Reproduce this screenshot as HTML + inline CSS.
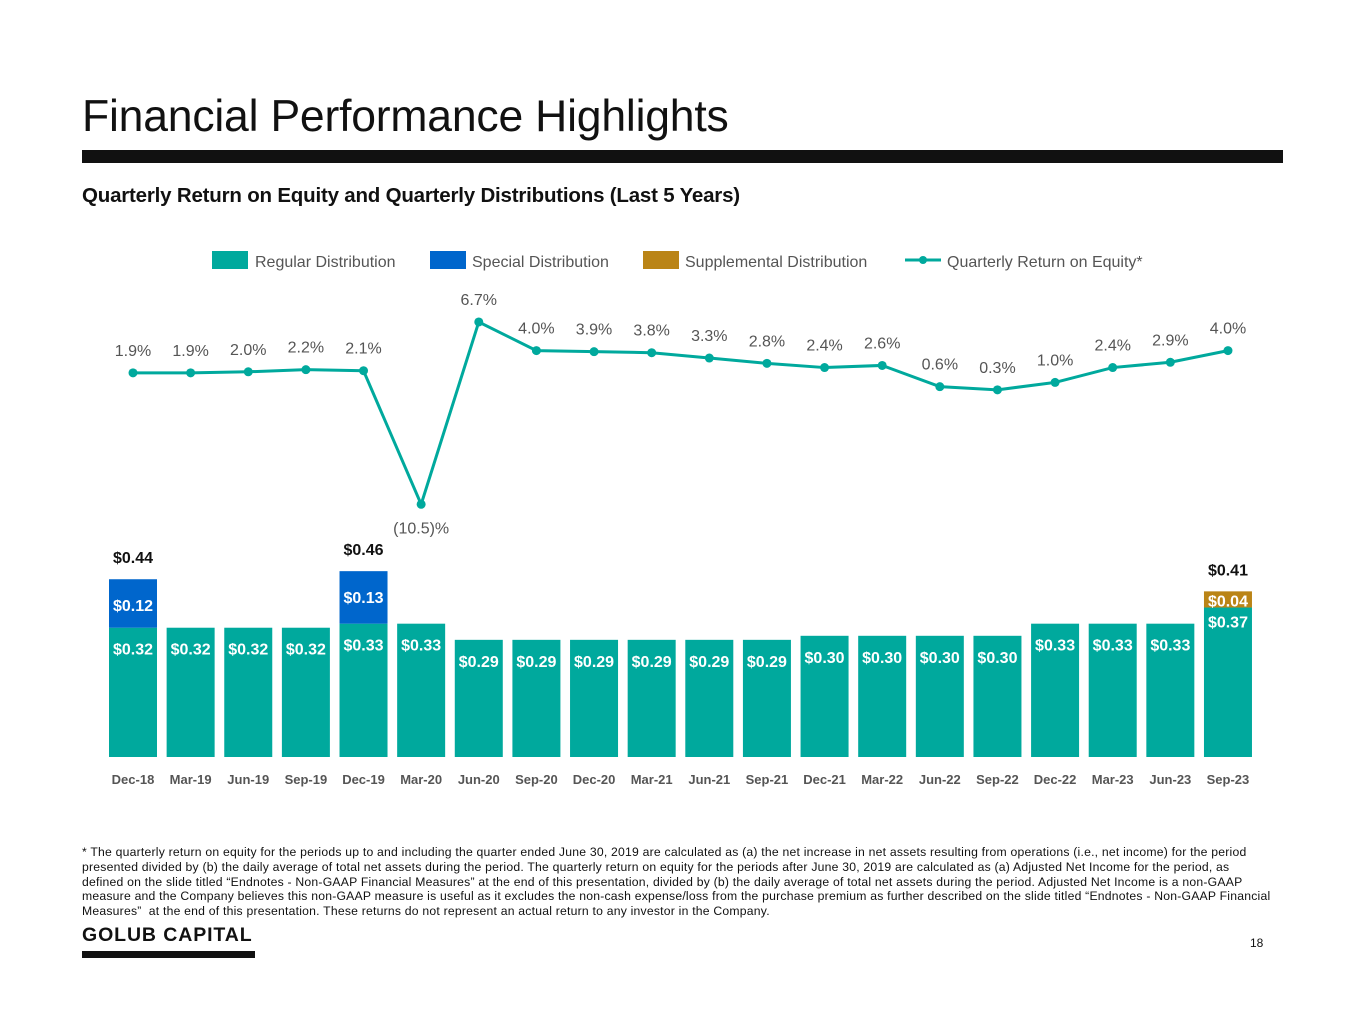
<!DOCTYPE html>
<html><head><meta charset="utf-8">
<style>
body{margin:0;width:1365px;height:1024px;background:#fff;position:relative;overflow:hidden;font-family:"Liberation Sans",sans-serif;}
.abs{position:absolute;}
#title{left:82px;top:92px;font-size:44.5px;color:#111;letter-spacing:-0.2px;}
#rule{left:82px;top:150px;width:1201px;height:13px;background:#111;}
#subtitle{left:82px;top:184px;font-size:20.5px;font-weight:bold;color:#111;letter-spacing:-0.2px;}
#foot{left:82px;top:845px;width:1190px;font-size:12.2px;line-height:14.8px;color:#111;letter-spacing:0.22px;}
#logo{left:82px;top:924px;font-size:19.5px;font-weight:bold;letter-spacing:0.9px;color:#111;}
#logobar{left:82px;top:951px;width:173px;height:7px;background:#111;}
#page{left:1250px;top:936px;font-size:12px;color:#111;}
</style></head><body>
<div class="abs" id="title">Financial Performance Highlights</div>
<div class="abs" id="rule"></div>
<div class="abs" id="subtitle">Quarterly Return on Equity and Quarterly Distributions (Last 5 Years)</div>
<svg class="abs" style="left:0;top:0" width="1365" height="830" id="chart" font-family="Liberation Sans, sans-serif">
<g>
<g><rect x="212" y="251" width="36" height="18" fill="#00A99D"/><text x="255" y="267" font-size="16" fill="#555">Regular Distribution</text></g>
<g><rect x="430" y="251" width="36" height="18" fill="#0066CC"/><text x="472" y="267" font-size="16" fill="#555">Special Distribution</text></g>
<g><rect x="643" y="251" width="36" height="18" fill="#BA8416"/><text x="685" y="267" font-size="16" fill="#555">Supplemental Distribution</text></g>
<g><line x1="905" y1="260" x2="941" y2="260" stroke="#00A99D" stroke-width="3"/><circle cx="923" cy="260" r="4" fill="#00A99D"/><text x="947" y="267" font-size="16" fill="#555">Quarterly Return on Equity*</text></g>
</g>
<g id="bars"></g><g id="line"></g><g id="xlabels"></g>
</svg>
<div class="abs" id="foot">* The quarterly return on equity for the periods up to and including the quarter ended June 30, 2019 are calculated as (a) the net increase in net assets resulting from operations (i.e., net income) for the period presented divided by (b) the daily average of total net assets during the period. The quarterly return on equity for the periods after June 30, 2019 are calculated as (a) Adjusted Net Income for the period, as defined on the slide titled “Endnotes - Non-GAAP Financial Measures” at the end of this presentation, divided by (b) the daily average of total net assets during the period. Adjusted Net Income is a non-GAAP measure and the Company believes this non-GAAP measure is useful as it excludes the non-cash expense/loss from the purchase premium as further described on the slide titled “Endnotes - Non-GAAP Financial Measures”&nbsp; at the end of this presentation. These returns do not represent an actual return to any investor in the Company.</div>
<div class="abs" id="logo">GOLUB CAPITAL</div>
<div class="abs" id="logobar"></div>
<div class="abs" id="page">18</div>
<script>
const categories=["Dec-18","Mar-19","Jun-19","Sep-19","Dec-19","Mar-20","Jun-20","Sep-20","Dec-20","Mar-21","Jun-21","Sep-21","Dec-21","Mar-22","Jun-22","Sep-22","Dec-22","Mar-23","Jun-23","Sep-23"];
const regular=[0.32,0.32,0.32,0.32,0.33,0.33,0.29,0.29,0.29,0.29,0.29,0.29,0.30,0.30,0.30,0.30,0.33,0.33,0.33,0.37];
const special=[0.12,0,0,0,0.13,0,0,0,0,0,0,0,0,0,0,0,0,0,0,0];
const supplemental=[0,0,0,0,0,0,0,0,0,0,0,0,0,0,0,0,0,0,0,0.04];
const roe=[1.9,1.9,2.0,2.2,2.1,-10.5,6.7,4.0,3.9,3.8,3.3,2.8,2.4,2.6,0.6,0.3,1.0,2.4,2.9,4.0];
const NS="http://www.w3.org/2000/svg";
const xC=i=>133+i*57.63;
const yB=v=>757-v*404;
const yR=v=>393-v*10.6;
const BW=48;
function mk(tag,attrs,parent,txt){const e=document.createElementNS(NS,tag);for(const k in attrs)e.setAttribute(k,attrs[k]);if(txt!==undefined)e.textContent=txt;parent.appendChild(e);return e;}
const fmt=v=>"$"+v.toFixed(2);
const bars=document.getElementById('bars'),line=document.getElementById('line'),xl=document.getElementById('xlabels');
categories.forEach((c,i)=>{
  const x=xC(i)-BW/2;
  const r=mk('rect',{x:x,y:yB(regular[i]),width:BW,height:yB(0)-yB(regular[i]),fill:'#00A99D'},bars);
  
  
  const hasExtra=special[i]>0||supplemental[i]>0;
  const lt=mk('text',{x:xC(i),y:yB(regular[i])+(supplemental[i]>0?20:27),'text-anchor':'middle','font-size':16,'font-weight':'bold',fill:'#fff'},bars,fmt(regular[i]));
  
  
  let top=regular[i];
  if(special[i]>0){
    const s=mk('rect',{x:x,y:yB(top+special[i]),width:BW,height:yB(top)-yB(top+special[i]),fill:'#0066CC'},bars);
    
    
    const st=mk('text',{x:xC(i),y:yB(top+special[i])+32,'text-anchor':'middle','font-size':16,'font-weight':'bold',fill:'#fff'},bars,fmt(special[i]));
    
    
    top+=special[i];
  }
  if(supplemental[i]>0){
    const s=mk('rect',{x:x,y:yB(top+supplemental[i]),width:BW,height:yB(top)-yB(top+supplemental[i]),fill:'#BA8416'},bars);
    
    
    const st=mk('text',{x:xC(i),y:yB(top+supplemental[i])+15,'text-anchor':'middle','font-size':16,'font-weight':'bold',fill:'#fff'},bars,fmt(supplemental[i]));
    
    
    top+=supplemental[i];
  }
  if(hasExtra){
    const tt=mk('text',{x:xC(i),y:yB(top)-16,'text-anchor':'middle','font-size':16,'font-weight':'bold',fill:'#111'},bars,fmt(top));
    
    
  }
  const xt=mk('text',{x:xC(i),y:784,'text-anchor':'middle','font-size':13,'font-weight':'bold',fill:'#555'},xl,c);
  
  
});
const pl=mk('polyline',{points:roe.map((v,i)=>xC(i)+','+yR(v)).join(' '),fill:'none',stroke:'#00A99D','stroke-width':3},line);


roe.forEach((v,i)=>{
  const d=mk('circle',{cx:xC(i),cy:yR(v),r:4.5,fill:'#00A99D'},line);
  
  
  const txt=v<0?'('+Math.abs(v).toFixed(1)+')%':v.toFixed(1)+'%';
  const t=mk('text',{x:xC(i),y:v<0?yR(v)+29:yR(v)-17,'text-anchor':'middle','font-size':16,fill:'#555'},line,txt);
  
  
});
</script>
</body></html>
